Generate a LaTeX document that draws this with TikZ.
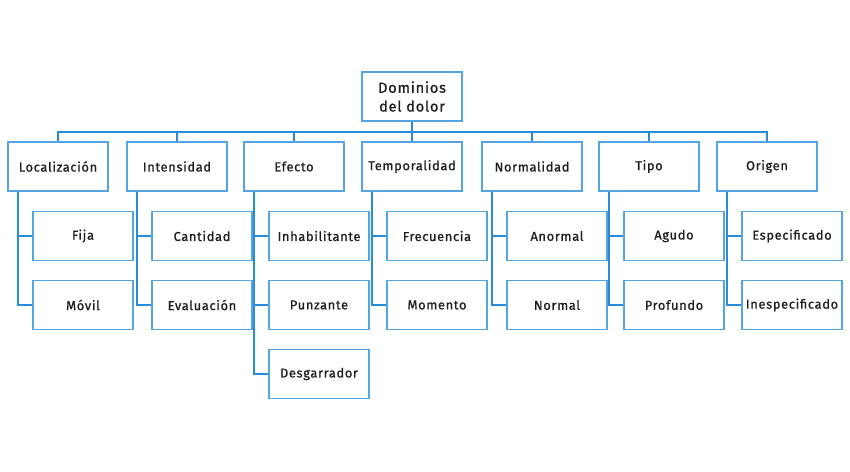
\documentclass[tikz,border=0pt]{standalone}
\usepackage{fontspec}
\setmainfont{Fira Sans}[LetterSpace=5,BoldFont={Fira Sans},BoldFeatures={FakeBold=0.9}]
\definecolor{linkblue}{RGB}{40,140,220}
\definecolor{boxblue}{RGB}{85,165,228}
\definecolor{textgray}{RGB}{30,30,30}

\begin{document}
\begin{tikzpicture}[x=0.03cm,y=-0.03cm]

                \tikzset{box/.style = {shape=rectangle,draw=boxblue,line width=1.2pt,minimum width=3cm,minimum height=1.47cm,inner sep=2pt,text=textgray,font=\fontsize{11}{13}\selectfont\bfseries,align=center}}
                \tikzset{edge/.style = {draw=linkblue,line width=1.5pt}}
                \useasboundingbox (0,0) rectangle (850,471);

                % root
                \node[box,font=\fontsize{12.5}{16}\selectfont\bfseries] (dom) at (412,96.5) {Dominios\\ del dolor};
                \coordinate (bus) at (412,132);

                % first level
                \node[box] (loc) at (58,166.5) {Localización};
                \node[box] (int) at (177,166.5) {Intensidad};
                \node[box] (efe) at (294,166.5) {Efecto};
                \node[box] (tem) at (412,166.5) {Temporalidad};
                \node[box] (nor) at (532,166.5) {Normalidad};
                \node[box] (tip) at (649,166.5) {Tipo};
                \node[box] (ori) at (767,166.5) {Origen};

                % second level
                \node[box] (fija) at (83,236) {Fija};
                \node[box] (movil) at (83,305) {Móvil};
                \node[box] (cant) at (202,236) {Cantidad};
                \node[box] (eval) at (202,305) {Evaluación};
                \node[box] (inha) at (319,236) {Inhabilitante};
                \node[box] (punz) at (319,305) {Punzante};
                \node[box] (desg) at (319,374) {Desgarrador};
                \node[box] (frec) at (437,236) {Frecuencia};
                \node[box] (mome) at (437,305) {Momento};
                \node[box] (anor) at (557,236) {Anormal};
                \node[box] (norm) at (557,305) {Normal};
                \node[box] (agud) at (674,236) {Agudo};
                \node[box] (prof) at (674,305) {Profundo};
                \node[box] (espe) at (792,236) {Especificado};
                \node[box] (ines) at (792,305) {Inespecificado};

                \draw[edge] (dom) to (bus);
                \foreach \n in {loc,int,efe,tem,nor,tip,ori}
                    \draw[edge] (\n.north) |- (bus);

                \foreach \p/\c in {loc/fija,loc/movil,int/cant,int/eval,efe/inha,efe/punz,efe/desg,
                                   tem/frec,tem/mome,nor/anor,nor/norm,tip/agud,tip/prof,ori/espe,ori/ines}
                    \draw[edge] ([xshift=0.33cm]\p.south west) |- (\c.west);
            \end{tikzpicture}
\end{document}
